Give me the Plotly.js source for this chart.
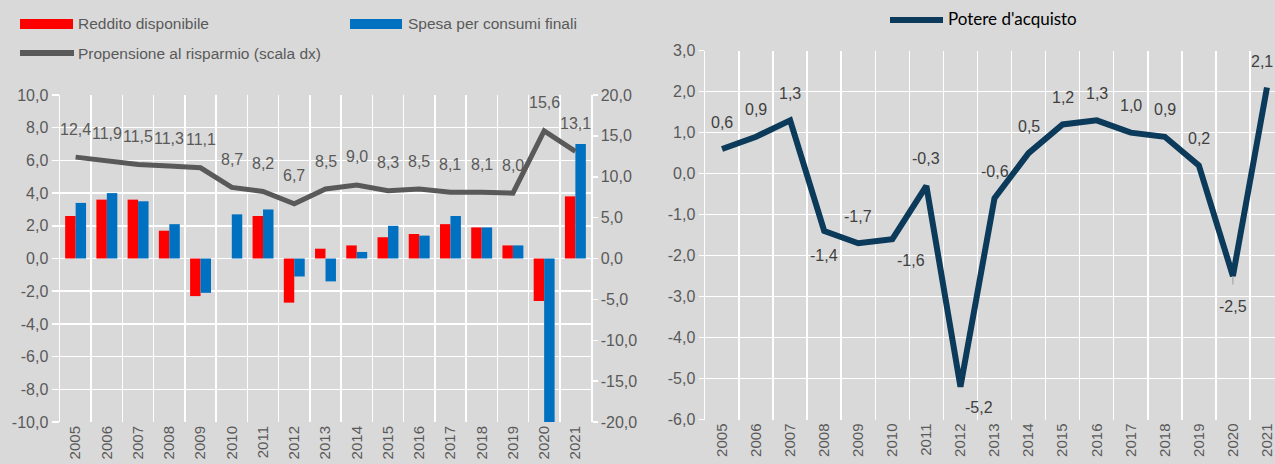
<!DOCTYPE html>
<html>
<head>
<meta charset="utf-8">
<script src="https://cdn.plot.ly/plotly-3.0.1.min.js"></script>
<style>
html,body{margin:0;padding:0;background:#d9d9d9;}
#chart{width:1275px;height:464px;}
</style>
</head>
<body>
<div id="chart"></div>
<script>
// ---- data ----
const years = ['2005','2006','2007','2008','2009','2010','2011','2012','2013','2014','2015','2016','2017','2018','2019','2020','2021'];
const reddito = [2.6,3.6,3.6,1.7,-2.3,0.0,2.6,-2.7,0.6,0.8,1.3,1.5,2.1,1.9,0.8,-2.6,3.8];
const spesa = [3.4,4.0,3.5,2.1,-2.1,2.7,3.0,-1.1,-1.4,0.4,2.0,1.4,2.6,1.9,0.8,-10.9,7.0];
const propensione = [12.4,11.9,11.5,11.3,11.1,8.7,8.2,6.7,8.5,9.0,8.3,8.5,8.1,8.1,8.0,15.6,13.1];
const potere = [0.6,0.9,1.3,-1.4,-1.7,-1.6,-0.3,-5.2,-0.6,0.5,1.2,1.3,1.0,0.9,0.2,-2.5,2.1];
const labelsLeft = {reddito:'Reddito disponibile', spesa:'Spesa per consumi finali', prop:'Propensione al risparmio (scala dx)'};
const labelRight = "Potere d'acquisto";
// tick values
const ticksLeft = [-10,-8,-6,-4,-2,0,2,4,6,8,10];
const ticksRight = [-20,-15,-10,-5,0,5,10,15,20];
const ticksPot = [-6,-5,-4,-3,-2,-1,0,1,2,3];
// label placement for right chart (style, not data)
const potPlace = ['a','a','a','b','a','br','a','br','a','a','a','a','a','a','a','b2','ae'];

// ---- style ----
const W = 1275, H = 464;
const px = x => x / W;
const py = y => 1 - y / H;
const FONT = '"Liberation Sans", Arial, sans-serif';
const GREY = '#595959';
const NAVY = '#0b3a5a';
const fmt = v => v.toFixed(1).replace('.', ',');

const traces = [
  {type:'bar', x:years, y:reddito, name:labelsLeft.reddito, marker:{color:'#ff0000'}, xaxis:'x', yaxis:'y', showlegend:false},
  {type:'bar', x:years, y:spesa, name:labelsLeft.spesa, marker:{color:'#0070c0'}, xaxis:'x', yaxis:'y', showlegend:false},
  {type:'scatter', mode:'lines', x:years, y:propensione, name:labelsLeft.prop, line:{color:GREY, width:5}, xaxis:'x', yaxis:'y2', showlegend:false},
  {type:'scatter', mode:'lines', x:years, y:potere, name:labelRight, line:{color:NAVY, width:6}, xaxis:'x2', yaxis:'y3', showlegend:false}
];

const annotations = [];
// leader line for 2020 (drawn first so it sits under the labels)
annotations.push({xref:'x2', yref:'y3', x:15, y:potere[15], ax:0, ay:21,
  showarrow:true, arrowhead:0, arrowwidth:1.2, arrowcolor:'#a6a6a6', text:' ', standoff:0, font:{size:16}});
propensione.forEach((v,i) => {
  annotations.push({xref:'x', yref:'y2', x:i, y:v, text:fmt(v), showarrow:false, yshift:28,
    font:{family:FONT, size:16, color:GREY}});
});
potere.forEach((v,i) => {
  const p = potPlace[i];
  const a = {xref:'x2', yref:'y3', x:i, y:v, text:fmt(v), showarrow:false,
    font:{family:FONT, size:16, color:'#404040'}};
  if (p === 'a') { a.yshift = 27; }
  else if (p === 'ae') { a.yshift = 26; a.xshift = -5; }
  else if (p === 'b') { a.yshift = -24; }
  else if (p === 'b2') { a.yshift = -30; }
  else { a.yshift = -21; a.xshift = 19; }
  annotations.push(a);
});

// legend texts
const legFont = {family:FONT, size:15.5, color:GREY};
annotations.push({xref:'paper', yref:'paper', x:px(76), y:py(24), xanchor:'left', yanchor:'middle', text:labelsLeft.reddito, showarrow:false, font:legFont});
annotations.push({xref:'paper', yref:'paper', x:px(406), y:py(24), xanchor:'left', yanchor:'middle', text:labelsLeft.spesa, showarrow:false, font:legFont});
annotations.push({xref:'paper', yref:'paper', x:px(76), y:py(53), xanchor:'left', yanchor:'middle', text:labelsLeft.prop, showarrow:false, font:legFont});
annotations.push({xref:'paper', yref:'paper', x:px(946), y:py(19), xanchor:'left', yanchor:'middle', text:labelRight, showarrow:false,
  font:{family:'Lato, "Open Sans", sans-serif', size:17, color:'#000000'}});

const shapes = [
  {type:'rect', xref:'paper', yref:'paper', x0:px(20), x1:px(73), y0:py(29), y1:py(19), fillcolor:'#ff0000', line:{width:0}},
  {type:'rect', xref:'paper', yref:'paper', x0:px(350), x1:px(402), y0:py(29), y1:py(19), fillcolor:'#0070c0', line:{width:0}},
  {type:'line', xref:'paper', yref:'paper', x0:px(20), x1:px(74), y0:py(53), y1:py(53), line:{color:GREY, width:6}},
  {type:'line', xref:'paper', yref:'paper', x0:px(890), x1:px(943), y0:py(20), y1:py(20), line:{color:NAVY, width:6}}
];

const tickFont = {family:FONT, size:16, color:GREY};
const xTickFont = {family:FONT, size:15, color:GREY};
const layout = {
  width:W, height:H,
  margin:{l:0, r:0, t:0, b:0},
  paper_bgcolor:'#d9d9d9', plot_bgcolor:'#d9d9d9',
  separators:',.',
  barmode:'group', bargap:0.33, bargroupgap:0,
  showlegend:false,
  xaxis:{domain:[px(60), px(591)], anchor:'y', type:'category', tickson:'boundaries', showgrid:true, gridcolor:'#ffffff', gridwidth:1.5,
    tickangle:-90, tickfont:xTickFont, ticks:'', ticklabelstandoff:0, zeroline:false, showline:false, range:[-0.5,16.5]},
  yaxis:{domain:[py(422), py(95)], anchor:'x', range:[-10,10], tickmode:'array', tickvals:ticksLeft, ticktext:ticksLeft.map(fmt), tickfont:tickFont,
    showgrid:true, gridcolor:'#ffffff', gridwidth:1.5, zeroline:false, ticks:'outside', ticklen:7, tickcolor:'#ffffff', tickwidth:1.5,
    showline:true, linecolor:'#ffffff', linewidth:1.5},
  yaxis2:{overlaying:'y', side:'right', anchor:'x', range:[-20,20], tickmode:'array', tickvals:ticksRight, ticktext:ticksRight.map(fmt), tickfont:tickFont,
    showgrid:false, zeroline:false, ticks:'outside', ticklen:5, tickcolor:'#ffffff', tickwidth:1.5,
    showline:true, linecolor:'#ffffff', linewidth:1.5},
  xaxis2:{domain:[px(705), 1], anchor:'y3', type:'category', tickson:'boundaries', showgrid:true, gridcolor:'#ffffff', gridwidth:1.5,
    tickangle:-90, tickfont:xTickFont, ticks:'', ticklabelstandoff:0, zeroline:false, range:[-0.5, 16.236]},
  yaxis3:{domain:[py(419.5), py(50.7)], anchor:'x2', range:[-6,3], tickmode:'array', tickvals:ticksPot, ticktext:ticksPot.map(fmt), tickfont:tickFont,
    showgrid:true, gridcolor:'#ffffff', gridwidth:1.5, zeroline:false, ticks:'outside', ticklen:5, tickcolor:'#ffffff', tickwidth:1.5,
    showline:true, linecolor:'#ffffff', linewidth:1.5},
  annotations:annotations,
  shapes:shapes
};

Plotly.newPlot('chart', traces, layout, {staticPlot:true, displayModeBar:false});
</script>
</body>
</html>
